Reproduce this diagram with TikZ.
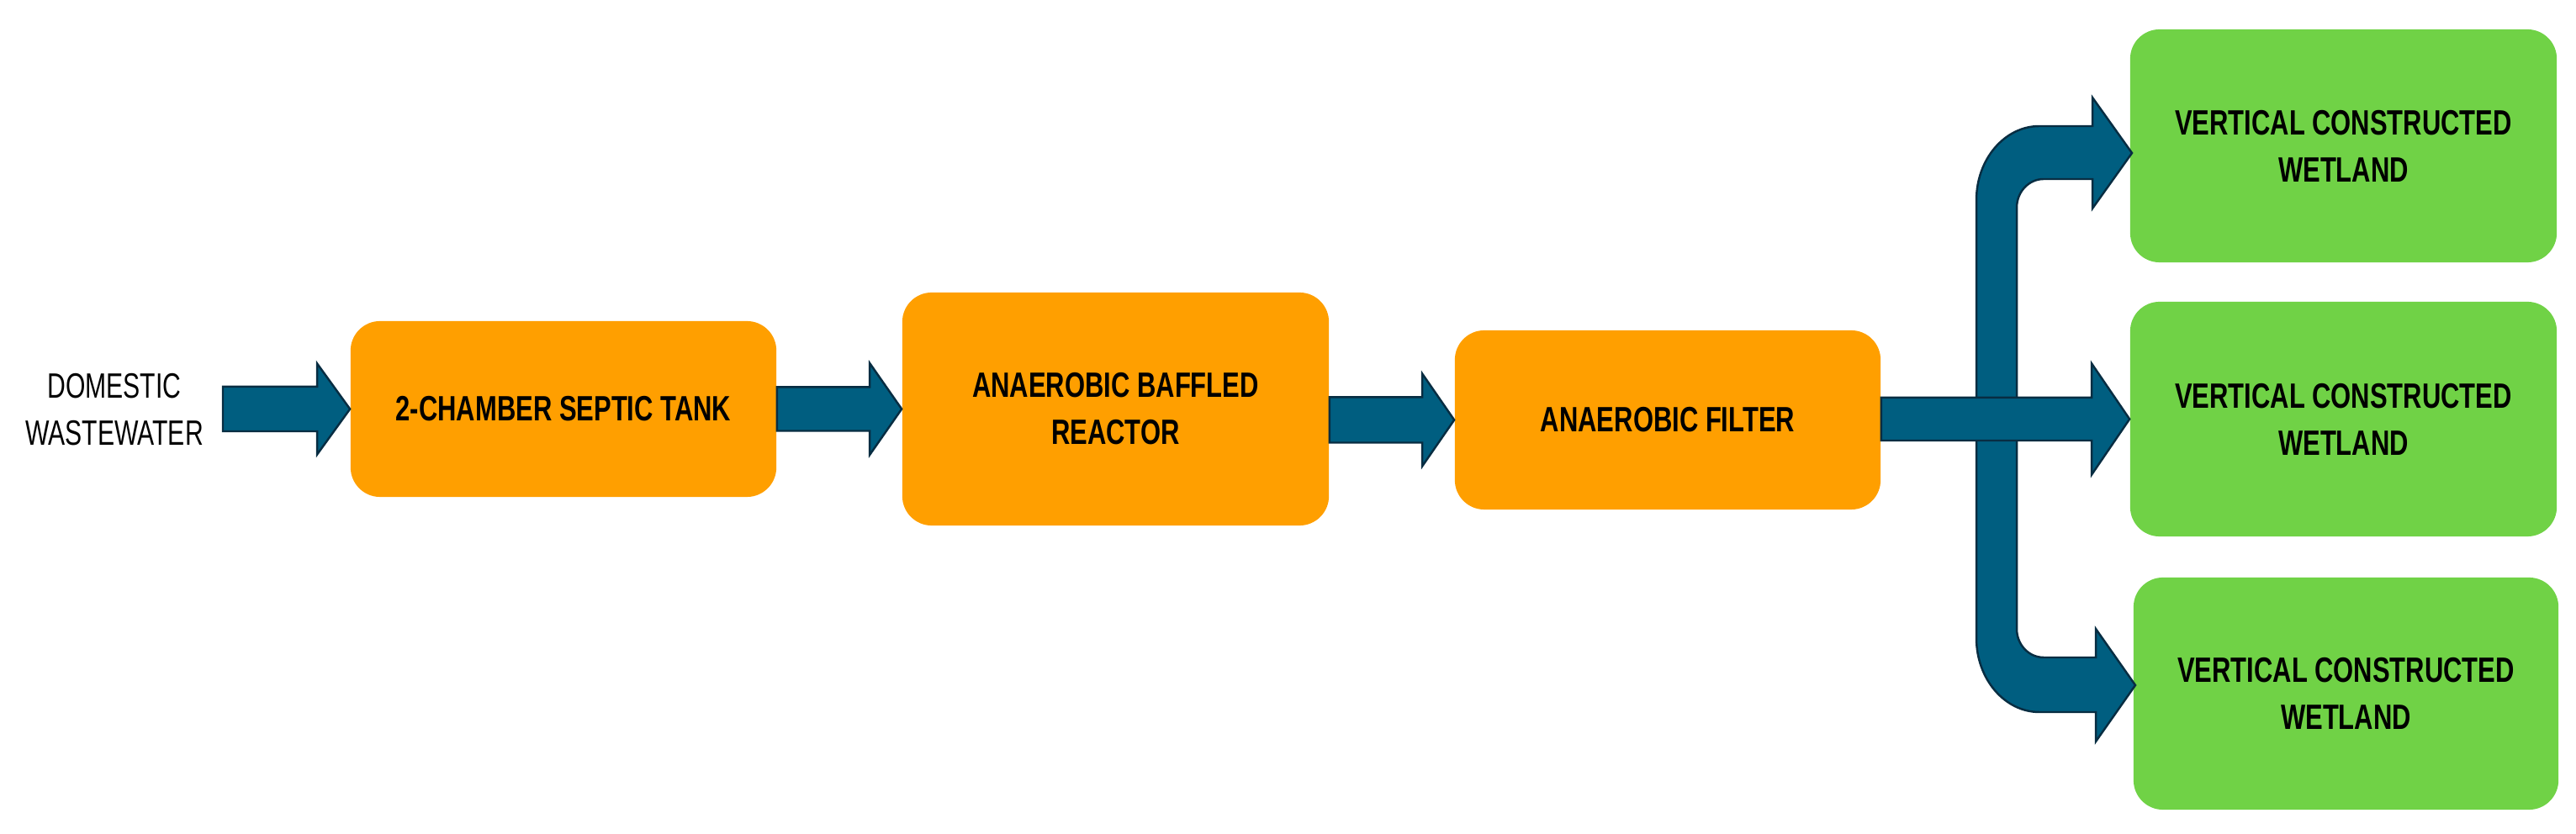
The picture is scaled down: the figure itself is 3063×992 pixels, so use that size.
\documentclass[tikz,border=0pt]{standalone}
\usepackage{fontspec}
\newfontfamily\lblb{Liberation Sans}[FakeStretch=0.74]
\newfontfamily\lblr{Liberation Sans}[FakeStretch=0.72]
\usetikzlibrary{calc}
\definecolor{boxorange}{RGB}{255,159,0}
\definecolor{boxgreen}{RGB}{112,210,70}
\definecolor{arrowfill}{RGB}{0,94,128}
\definecolor{arrowline}{RGB}{8,45,66}
\tikzset{
  proc/.style={fill=boxorange, rounded corners=0.35cm, inner sep=0pt, align=center,
    font=\lblb\bfseries\fontsize{11.9}{15.9}\selectfont},
  wet/.style={proc, fill=boxgreen},
  srclabel/.style={inner sep=0pt, align=center, font=\lblr\fontsize{11.9}{15.9}\selectfont},
  blk/.style={fill=arrowfill, draw=arrowline, line width=0.7pt, line join=miter},
}
% straight block arrow: #1 start, #2 tip, #3 half shaft, #4 half head, #5 head length
\newcommand\blockarrow[5]{%
  \path[blk] let \p1=(#1), \p2=(#2) in
    ({\x1},{\y2+#3}) -- ({\x2-#5},{\y2+#3}) -- ({\x2-#5},{\y2+#4}) -- (\x2,\y2)
    -- ({\x2-#5},{\y2-#4}) -- ({\x2-#5},{\y2-#3}) -- ({\x1},{\y2-#3}) -- cycle;}
\begin{document}
\begin{tikzpicture}[x=0.01cm, y=-0.01cm]
\useasboundingbox (0,0) rectangle (3063,992);

% boxes
\node[proc, minimum width=5.06cm, minimum height=2.09cm] (b1) at (670,486.5) {2-CHAMBER SEPTIC TANK};
\node[proc, minimum width=5.07cm, minimum height=2.77cm] (b2) at (1326.5,486.5) {ANAEROBIC BAFFLED\\REACTOR};
\node[proc, minimum width=5.06cm, minimum height=2.13cm] (b3) at (1983,499.5) {ANAEROBIC FILTER};
\node[wet, minimum width=5.07cm, minimum height=2.77cm] (w1) at (2786.5,173.5) {VERTICAL CONSTRUCTED\\WETLAND};
\node[wet, minimum width=5.07cm, minimum height=2.79cm] (w2) at (2786.5,498.5) {VERTICAL CONSTRUCTED\\WETLAND};
\node[wet, minimum width=5.05cm, minimum height=2.76cm] (w3) at (2789.5,825) {VERTICAL CONSTRUCTED\\WETLAND};

% source label
\node[srclabel] (src) at (136,487) {DOMESTIC\\WASTEWATER};
\coordinate (in0) at (265,487.5);

% straight arrows
\blockarrow{in0}{b1.west}{0.265cm}{0.54cm}{0.39cm}
\blockarrow{b1.east}{b2.west}{0.26cm}{0.545cm}{0.38cm}
\blockarrow{b2.east}{b3.west}{0.27cm}{0.55cm}{0.38cm}

% branching bent arrows (up and down)
\path[blk] (2350,238) .. controls (2350,189.4) and (2383.6,150) .. (2425,150)
  -- (2488,150) -- (2488,116) -- (2535,182) -- (2488,248) -- (2488,213) -- (2430,213)
  .. controls (2412.3,213) and (2398,228.2) .. (2398,247)
  -- (2398,748) .. controls (2398,766.8) and (2412.3,782) .. (2430,782)
  -- (2492,782) -- (2492,748) -- (2539,815) -- (2492,882) -- (2492,847) -- (2425,847)
  .. controls (2383.6,847) and (2350,807.6) .. (2350,759) -- cycle;

% middle arrow on top
\blockarrow{b3.east}{w2.west}{0.255cm}{0.66cm}{0.45cm}
\end{tikzpicture}
\end{document}
